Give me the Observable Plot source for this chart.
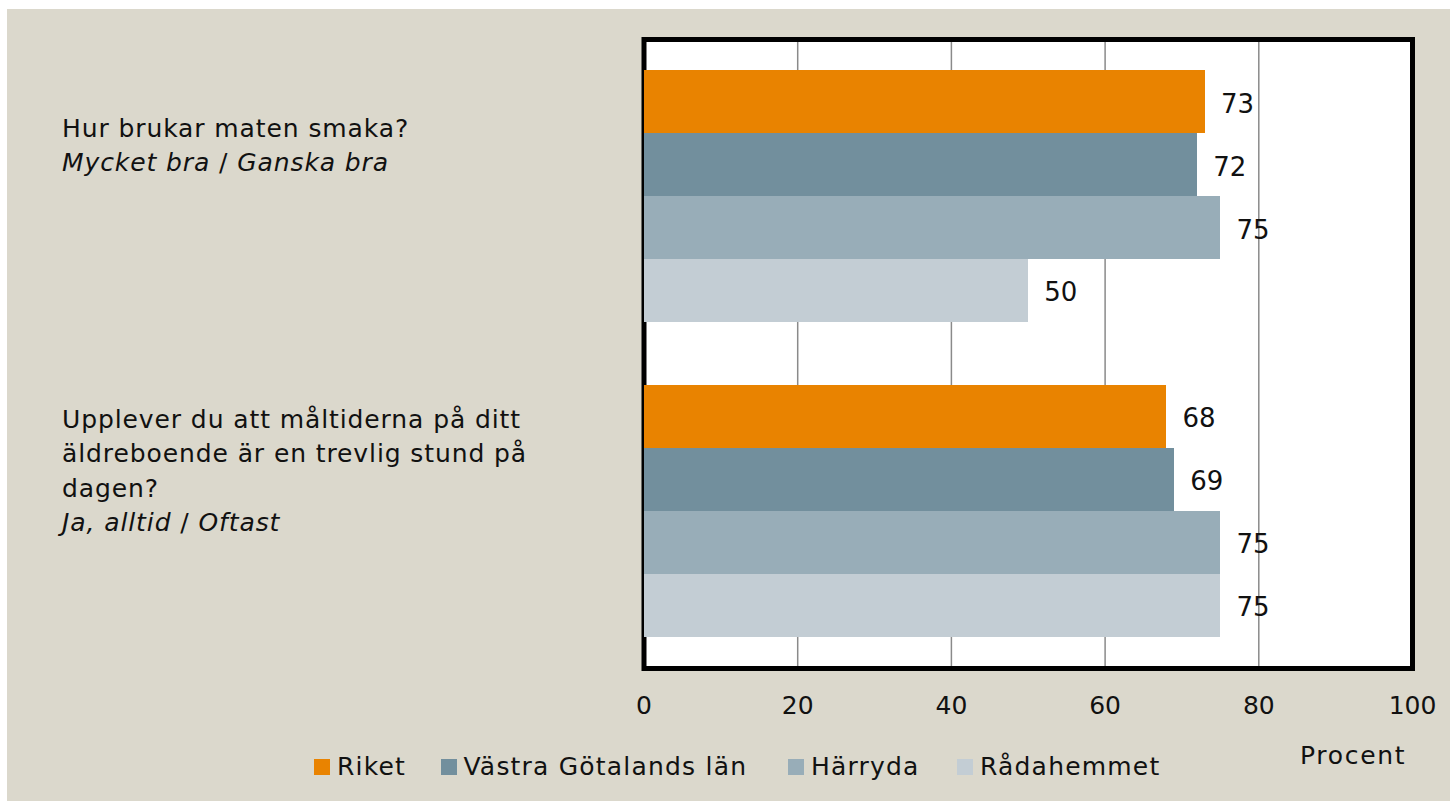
<!DOCTYPE html>
<html>
<head>
<meta charset="utf-8">
<script src="https://cdn.jsdelivr.net/npm/d3@7"></script>
<script src="https://cdn.jsdelivr.net/npm/@observablehq/plot@0.6"></script>
<style>
  body { margin: 0; background: #ffffff; }
  #wrap { position: absolute; left: 7px; top: 9px; width: 1443px; height: 792px; background: #dbd8cc; font-family: "DejaVu Sans", sans-serif; color: #111; overflow: hidden; }
  #chart { position: absolute; left: 0; top: 0; }
  .qlabel { position: absolute; left: 55px; font-size: 25px; letter-spacing: 0.9px; line-height: 34.4px; white-space: nowrap; }
  .qlabel i { font-style: italic; }
  .leg { position: absolute; top: 743px; font-size: 25px; letter-spacing: 1.2px; display: flex; align-items: center; white-space: nowrap; }
  .leg span.sw { display: inline-block; width: 16px; height: 16px; margin-right: 7px; }
  #procent { position: absolute; left: 1293px; top: 732px; font-size: 25px; letter-spacing: 1.7px; }
</style>
</head>
<body>
<div id="wrap">
  <div id="chart"></div>
</div>
<script>
// ---- data ----
const questionIds = ["q1", "q2"];
const questionLines = [
  ["Hur brukar maten smaka?"],
  ["Upplever du att måltiderna på ditt", "äldreboende är en trevlig stund på", "dagen?"]
];
const answerLines = ["Mycket bra / Ganska bra", "Ja, alltid / Oftast"];
const seriesNames = ["Riket", "Västra Götalands län", "Härryda", "Rådahemmet"];
const seriesColors = ["#e98300", "#728f9d", "#98adb8", "#c3cdd4"];
const valuesQ1 = [73, 72, 75, 50];
const valuesQ2 = [68, 69, 75, 75];
const xTicks = [0, 20, 40, 60, 80, 100];
const gridValues = [20, 40, 60, 80];
const xAxisLabel = "Procent";

// ---- build table ----
const allValues = [valuesQ1, valuesQ2];
const rows = [];
questionIds.forEach((q, qi) => {
  seriesNames.forEach((s, si) => {
    rows.push({question: q, series: s, key: q + "|" + s, value: allValues[qi][si]});
  });
});
const yDomain = [
  ...seriesNames.map(s => "q1|" + s),
  "gap",
  ...seriesNames.map(s => "q2|" + s)
];

const chart = Plot.plot({
  width: 1443,
  height: 792,
  marginLeft: 636.5,
  marginRight: 38,
  marginTop: 30,
  marginBottom: 133,
  style: {background: "transparent", fontFamily: "DejaVu Sans, sans-serif", fontSize: "25px", color: "#111"},
  x: {domain: [0, 100], ticks: xTicks, tickSize: 0, tickPadding: 28, tickFormat: d => String(d), label: null},
  y: {domain: yDomain, paddingInner: 0, paddingOuter: 0.5, round: false, axis: null},
  color: {domain: seriesNames, range: seriesColors},
  marks: [
    Plot.frame({fill: "white", stroke: null}),
    Plot.ruleX(gridValues, {stroke: "#8a8a8a", strokeWidth: 1.5}),
    Plot.frame({stroke: "black", strokeWidth: 5}),
    Plot.barX(rows, {x: "value", y: "key", fill: "series", insetTop: 0, insetBottom: 0, shapeRendering: "crispEdges"}),
    Plot.text(rows, {x: "value", y: "key", text: d => String(d.value), dx: 16, dy: 2, textAnchor: "start", fontSize: 26, fill: "#111"})
  ]
});
document.getElementById("chart").appendChild(chart);

// ---- left question labels (HTML) ----
const wrap = document.getElementById("wrap");
const labelTops = [103, 394];
questionIds.forEach((q, qi) => {
  const div = document.createElement("div");
  div.className = "qlabel";
  div.style.top = labelTops[qi] + "px";
  const parts = answerLines[qi].split(" / ");
  div.innerHTML = questionLines[qi].map(l => `<div>${l}</div>`).join("") +
    `<div><i>${parts[0]}</i> / <i>${parts[1]}</i></div>`;
  wrap.appendChild(div);
});

// ---- legend ----
const legendLefts = [307, 433.5, 781, 950];
seriesNames.forEach((s, i) => {
  const item = document.createElement("div");
  item.className = "leg";
  item.style.left = legendLefts[i] + "px";
  item.innerHTML = `<span class="sw" style="background:${seriesColors[i]}"></span><span>${s}</span>`;
  wrap.appendChild(item);
});

const pl = document.createElement("div");
pl.id = "procent";
pl.textContent = xAxisLabel;
wrap.appendChild(pl);
</script>
</body>
</html>
